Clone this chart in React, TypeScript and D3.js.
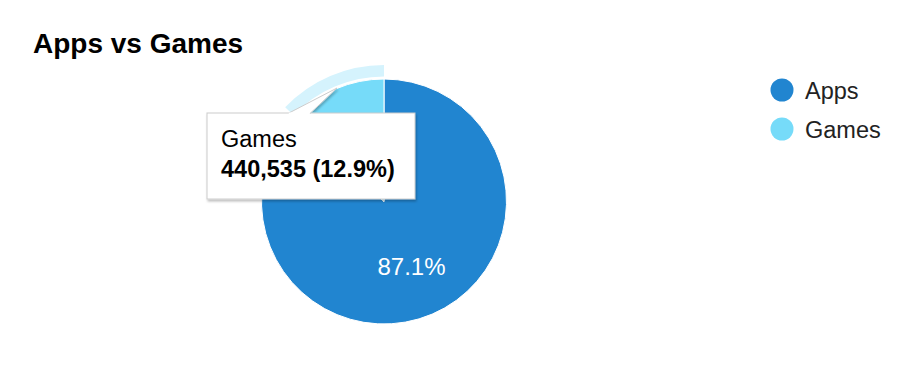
import React from "react";
import * as d3 from "d3";

const categories = ["Apps", "Games"];
const values = [2979000, 440535];
const colors = ["#2185D0", "#76DBF9"];
const title = "Apps vs Games";

const W = 916, H = 382;
const cx = 384, cy = 201.5, R = 122.5;
const FONT = "Arial, 'Liberation Sans', Helvetica, sans-serif";

export default function App() {
  const total = d3.sum(values);
  const pie = d3.pie<number>().sort(null).value((d) => d);
  const arcs = pie(values);
  const arc = d3.arc<d3.PieArcDatum<number>>().innerRadius(0).outerRadius(R);
  const ring = d3.arc<d3.PieArcDatum<number>>().innerRadius(R + 2.5).outerRadius(R + 14);
  const fmt = d3.format(",");
  const pct = (v: number) => ((v / total) * 100).toFixed(1) + "%";

  const a0 = arcs[0];
  const mid = (a0.startAngle + a0.endAngle) / 2;
  const lr = R * 0.57;
  const lx = cx + Math.sin(mid) * lr;
  const ly = cy - Math.cos(mid) * lr;

  const g = arcs[1];
  const tipX = 207, tipY = 113, tipW = 208, tipH = 86;

  return (
    <svg width={W} height={H} style={{ position: "absolute", left: 0, top: 0, background: "#fff" }}>
      <defs>
        <filter id="sh" x="-10%" y="-10%" width="130%" height="140%">
          <feDropShadow dx="1" dy="2" stdDeviation="1" floodColor="#000" floodOpacity="0.25" />
        </filter>
      </defs>
      <text x={33} y={53} fontFamily={FONT} fontWeight="bold" fontSize={28} fill="#000">{title}</text>
      <g transform={`translate(${cx},${cy})`}>
        {arcs.map((a, i) => (
          <path key={i} d={arc(a) || ""} fill={colors[i]} stroke="#fff" strokeWidth={1} />
        ))}
        <path d={ring(g) || ""} fill="#D5F3FD" stroke="none" />
      </g>
      <text x={lx} y={ly + 9} textAnchor="middle" fontFamily={FONT} fontSize={24} fill="#fff">{pct(values[0])}</text>
      {categories.map((c, i) => (
        <g key={c}>
          <circle cx={782} cy={90 + i * 39} r={11.5} fill={colors[i]} />
          <text x={805} y={99 + i * 39} fontFamily={FONT} fontSize={23.5} fill="#222">{c}</text>
        </g>
      ))}
      <g filter="url(#sh)">
        <rect x={tipX} y={tipY} width={tipW} height={tipH} fill="#fff" stroke="#ccc" strokeWidth={1} />
        <path d={`M${288},${tipY + 0.5} L${337},${88} L${310},${tipY + 0.5}`} fill="#fff" stroke="#ccc" strokeWidth={1} />
        <rect x={288.5} y={tipY - 0.5} width={21} height={2} fill="#fff" />
      </g>
      <text x={221} y={147} fontFamily={FONT} fontSize={23.5} fill="#000">{categories[1]}</text>
      <text x={221} y={177} fontFamily={FONT} fontSize={23.5} fontWeight="bold" fill="#000">
        {`${fmt(values[1])} (${pct(values[1])})`}
      </text>
    </svg>
  );
}
